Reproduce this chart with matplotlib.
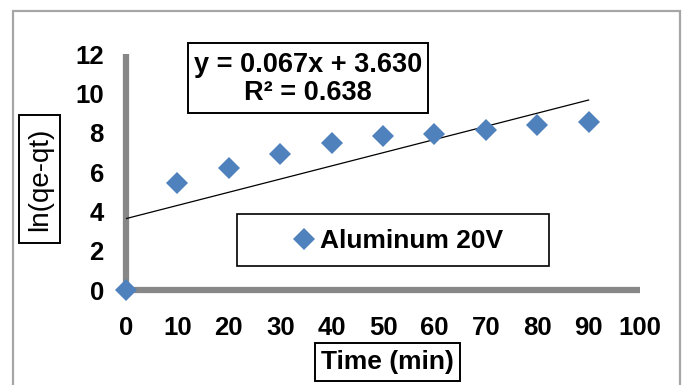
import matplotlib
matplotlib.use("Agg")
import matplotlib.pyplot as plt
from matplotlib.patches import Rectangle

plt.rcParams['font.family'] = ['Liberation Sans', 'DejaVu Sans']
plt.rcParams['font.weight'] = 'bold'

# pseudo-second-order data, aluminium electrode at 20 V
time_min = [0, 10, 20, 30, 40, 50, 60, 70, 80, 90]
ln_qe_qt = [0, 5.42, 6.19, 6.90, 7.46, 7.83, 7.93, 8.13, 8.39, 8.52]
slope = 0.067
intercept = 3.630
r_squared = 0.638
series_name = "Aluminum 20V"

blue = '#4F81BD'
axis_gray = '#878787'
W, H = 684, 385


def fig_box(x0, y0, x1, y1, lw=1.4):
    # frame given in pixels from the top-left corner
    fig.patches.append(Rectangle((x0 / W, 1 - y1 / H), (x1 - x0) / W, (y1 - y0) / H,
                                 transform=fig.transFigure, facecolor='white',
                                 edgecolor='black', linewidth=lw, zorder=1))


fig = plt.figure(figsize=(W / 100, H / 100), dpi=100)
ax = fig.add_axes([126 / W, 95 / H, 514 / W, 236 / H])
ax.set_zorder(2)

ax.plot(time_min, ln_qe_qt, linestyle='none', marker='D', markersize=11,
        markeredgewidth=0, color=blue, clip_on=False, zorder=4, label=series_name)

fit_x = [time_min[0], time_min[-1]]
fit_y = [slope * x + intercept for x in fit_x]
ax.plot(fit_x, fit_y, color='black', linewidth=0.9, zorder=3)

ax.set_xlim(0, 100)
ax.set_ylim(0, 12)
ax.set_xticks(range(0, 101, 10))
ax.set_yticks(range(0, 13, 2))
ax.tick_params(axis='x', length=0, pad=19, labelsize=18.5)
ax.tick_params(axis='y', length=0, pad=16, labelsize=18.5)
for lbl in ax.get_xticklabels() + ax.get_yticklabels():
    lbl.set_fontweight('bold')

for side in ('top', 'right'):
    ax.spines[side].set_visible(False)
for side in ('left', 'bottom'):
    ax.spines[side].set_color(axis_gray)
    ax.spines[side].set_linewidth(4.5)
    ax.spines[side].set_capstyle('butt')
ax.set_facecolor('none')

# outer chart border
fig.patches.append(Rectangle((13 / W, -0.05), 667 / W, 1.05 - 11 / H,
                             transform=fig.transFigure, fill=False,
                             edgecolor='#A6A6A6', linewidth=1.6, zorder=0))

# trendline equation
fig_box(188, 43, 428, 113)
fig.text(308 / W, 1 - 79 / H,
         "y = {:.3f}x + {:.3f}\nR² = {:.3f}".format(slope, intercept, r_squared),
         ha='center', va='center', multialignment='center', fontsize=19.5,
         fontweight='bold', linespacing=1.1, zorder=3)

# axis titles
fig_box(315, 343, 460, 381)
fig.text(387.5 / W, 1 - 362 / H, "Time (min)", ha='center', va='center',
         fontsize=19, fontweight='bold', zorder=3)
fig_box(19, 115, 60, 243)
fig.text(40 / W, 1 - 179 / H, "ln(qe-qt)", ha='center', va='center',
         rotation=90, fontsize=20, fontweight='normal', zorder=3)

# legend with its own frame
fig_box(237, 214, 549, 266, lw=1.2)
leg = fig.legend(loc='center', bbox_to_anchor=(400 / W, 1 - 241 / H),
                 frameon=False, handlelength=0.6, handletextpad=0.3,
                 prop={'size': 19, 'weight': 'bold'})
leg.set_zorder(3)

fig.savefig('out.png', dpi=100)
